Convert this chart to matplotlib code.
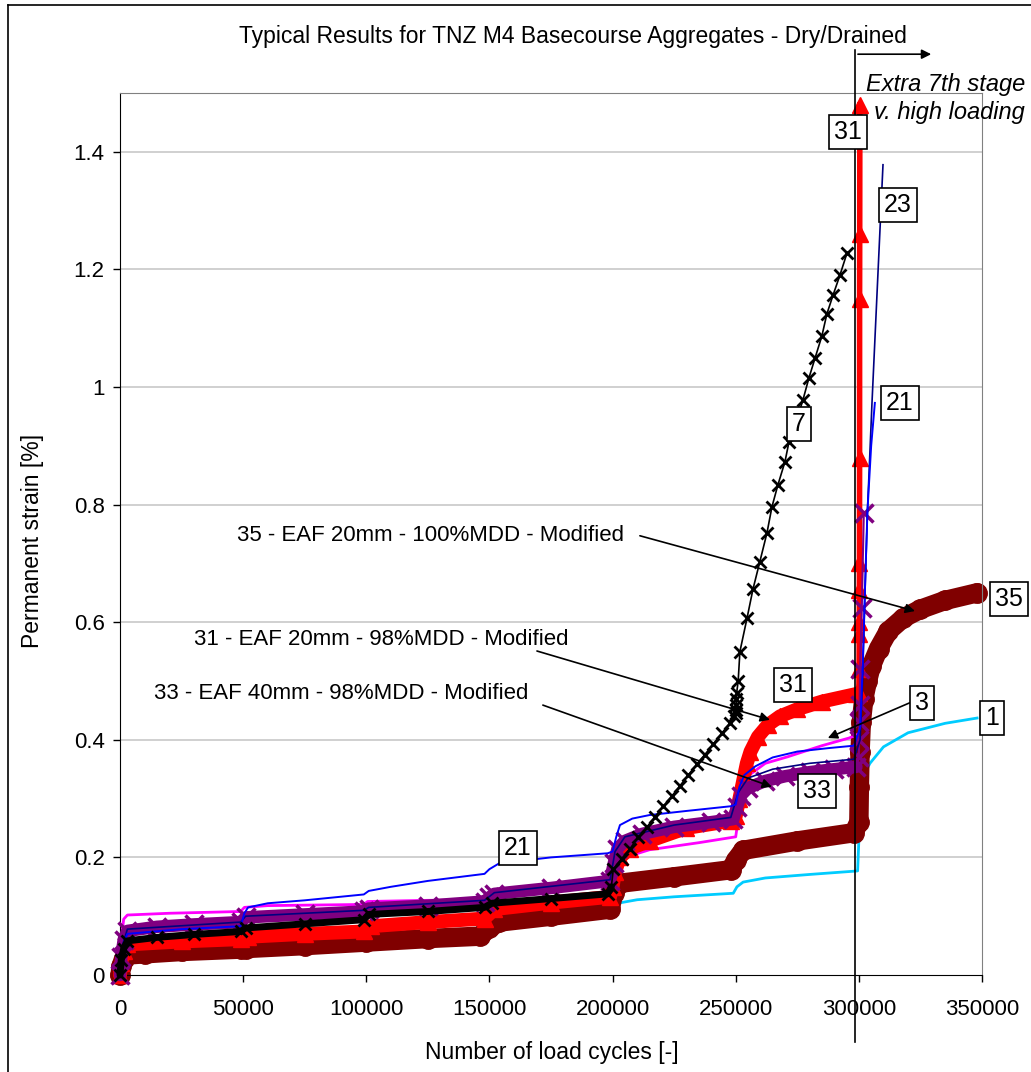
import numpy as np
import matplotlib
matplotlib.use("Agg")
import matplotlib.pyplot as plt

plt.rcParams['font.family'] = ['Liberation Sans', 'DejaVu Sans']

# ---- data ----
# 35 - maroon circles
x35 = [0, 500, 1500, 3000, 10000, 25000, 49000, 51000, 75000, 100000, 125000, 146000, 150000, 154000,
       175000, 199000, 200500, 203000, 225000, 248000, 250000, 253000, 275000, 298000, 300000, 300200,
       300500, 301000, 302000, 303500, 305000, 308000, 312000, 318000, 325000, 335000, 348000]
y35 = [0, 0.015, 0.028, 0.034, 0.036, 0.04, 0.044, 0.045, 0.05, 0.056, 0.062, 0.066, 0.08, 0.09,
       0.1, 0.112, 0.14, 0.156, 0.167, 0.179, 0.195, 0.212, 0.228, 0.242, 0.26, 0.32,
       0.38, 0.43, 0.47, 0.5, 0.525, 0.555, 0.585, 0.607, 0.622, 0.637, 0.65]

# 1 - cyan (hidden under 35 before 200000)
x1 = [0, 1000, 3000, 25000, 50000, 100000, 145000, 155000, 180000, 199000, 200500, 202000, 210000, 225000,
      249000, 250500, 253000, 262000, 280000, 299500, 300200, 300600, 302000, 304500, 310000, 320000,
      335000, 348000]
y1 = [0, 0.02, 0.03, 0.036, 0.043, 0.054, 0.062, 0.085, 0.095, 0.098, 0.11, 0.122, 0.128, 0.133,
      0.139, 0.15, 0.158, 0.165, 0.171, 0.177, 0.25, 0.31, 0.34, 0.36, 0.388, 0.412,
      0.428, 0.437]

# 3 - magenta
x3 = [0, 800, 1500, 3000, 20000, 49000, 50500, 60000, 99000, 100500, 125000, 149000, 151000, 175000,
      199000, 201000, 205000, 215000, 235000, 250000, 251500, 254500, 262000, 271000, 285000, 296000, 300000]
y3 = [0, 0.07, 0.095, 0.102, 0.105, 0.108, 0.115, 0.118, 0.12, 0.125, 0.127, 0.128, 0.135, 0.145,
      0.155, 0.18, 0.2, 0.213, 0.225, 0.235, 0.28, 0.337, 0.36, 0.371, 0.39, 0.403, 0.41]

# 31 - red triangles
x31 = [0, 500, 1500, 3000, 25000, 49000, 52000, 75000, 99000, 102000, 125000, 148000, 152000, 175000,
       199000, 200000, 201000, 203000, 207000, 215000, 230000, 248000, 250000, 251500, 253000, 254500,
       256000, 259000, 263000, 268000, 275000, 285000, 299000, 300000, 300100, 300150, 300200, 300200,
       300250, 300300, 300300, 300350, 300400]
y31 = [0, 0.02, 0.04, 0.052, 0.057, 0.061, 0.065, 0.07, 0.074, 0.083, 0.09, 0.096, 0.112, 0.123,
       0.133, 0.15, 0.175, 0.2, 0.215, 0.228, 0.25, 0.262, 0.27, 0.3, 0.33, 0.36,
       0.38, 0.405, 0.425, 0.44, 0.452, 0.465, 0.478, 0.48, 0.52, 0.58, 0.6, 0.655,
       0.7, 0.88, 1.15, 1.26, 1.48]

# 33 - purple crosses
x33 = [0, 500, 1500, 3000, 15000, 30000, 49000, 51000, 75000, 99000, 101000, 125000, 148000, 150000,
       152000, 175000, 199000, 200500, 202000, 205000, 212000, 225000, 240000, 249000, 250500, 252000,
       255000, 262000, 270000, 280000, 290000, 299000, 300000, 300100, 300200, 300300, 300500, 301200, 302000]
y33 = [0, 0.03, 0.06, 0.075, 0.082, 0.086, 0.09, 0.098, 0.103, 0.108, 0.113, 0.118, 0.125, 0.132,
       0.138, 0.148, 0.16, 0.19, 0.215, 0.228, 0.24, 0.252, 0.26, 0.265, 0.285, 0.305,
       0.318, 0.33, 0.338, 0.345, 0.35, 0.354, 0.37, 0.4, 0.43, 0.46, 0.52, 0.625, 0.785]

# 23 - navy
x23 = [0, 1000, 3000, 49000, 51000, 99000, 101000, 148000, 152000, 199000, 201000, 205000, 225000, 248000,
       251000, 255000, 265000, 280000, 298000, 300500, 301500, 302500, 303500, 305300, 307500, 309800]
y23 = [0, 0.05, 0.078, 0.09, 0.1, 0.11, 0.115, 0.127, 0.14, 0.162, 0.21, 0.235, 0.255, 0.268,
       0.31, 0.335, 0.35, 0.36, 0.367, 0.4, 0.5, 0.65, 0.79, 0.97, 1.17, 1.378]

# 21 - blue
x21 = [0, 500, 1500, 3000, 25000, 49000, 50500, 52000, 60000, 75000, 99000, 101000, 110000, 125000,
       148000, 150000, 154000, 175000, 198000, 200000, 201500, 203000, 208000, 215000, 230000, 248000,
       250000, 251500, 253500, 258000, 265000, 275000, 288000, 298000, 300500, 301500, 302500, 303500,
       305000, 306500]
y21 = [0, 0.03, 0.055, 0.07, 0.078, 0.083, 0.105, 0.115, 0.122, 0.127, 0.137, 0.143, 0.15, 0.16,
       0.172, 0.18, 0.19, 0.2, 0.207, 0.21, 0.235, 0.255, 0.266, 0.272, 0.279, 0.287,
       0.29, 0.32, 0.34, 0.355, 0.37, 0.38, 0.386, 0.39, 0.42, 0.52, 0.66, 0.79,
       0.9, 0.973]

# 7 - black crosses
x7 = [0, 500, 1500, 3000, 15000, 30000, 49000, 51000, 75000, 99000, 101000, 125000, 148000, 151000,
      175000, 198000, 199500, 200300, 203700, 207100, 210400, 213800, 217200, 220600, 224000, 227400,
      230700, 234100, 237500, 240900, 244300, 247700, 249500, 250000, 250100, 250200, 250300, 250400,
      251000, 251700, 254600, 257000, 259800, 262700, 264700, 267100, 270000, 271600, 274500, 277300,
      279700, 282200, 285000, 287000, 289500, 292300, 295200]
y7 = [0, 0.025, 0.045, 0.058, 0.064, 0.069, 0.074, 0.08, 0.087, 0.094, 0.103, 0.108, 0.115, 0.122,
      0.13, 0.138, 0.15, 0.18, 0.198, 0.215, 0.234, 0.251, 0.269, 0.287, 0.304, 0.322,
      0.34, 0.358, 0.375, 0.393, 0.411, 0.429, 0.44, 0.445, 0.45, 0.46, 0.47, 0.48,
      0.5, 0.55, 0.607, 0.656, 0.703, 0.752, 0.796, 0.833, 0.873, 0.906, 0.94, 0.978,
      1.015, 1.049, 1.087, 1.124, 1.156, 1.19, 1.228]

# boxed series labels: (text, x, y)
box_labels = [("31", 295600, 1.434), ("23", 315900, 1.309), ("21", 316700, 0.973), ("7", 275700, 0.937),
              ("35", 360900, 0.639), ("31", 273200, 0.493), ("3", 325600, 0.463), ("1", 354000, 0.437),
              ("33", 283000, 0.313), ("21", 161600, 0.216)]

# arrow notes: (text, text x, text y, arrow start x, y, arrow end x, y)
notes = [("35 - EAF 20mm - 100%MDD - Modified", 126000, 0.748, 211100, 0.747, 322800, 0.619),
         ("31 - EAF 20mm - 98%MDD - Modified", 106000, 0.570, 169300, 0.551, 263900, 0.434),
         ("33 - EAF 40mm - 98%MDD - Modified", 90000, 0.479, 171700, 0.459, 264700, 0.320)]

stage_x = 298500

# ---- figure ----
fig = plt.figure(figsize=(10.31, 10.72), dpi=100)
ax = fig.add_axes([120/1031, 1-975/1072, 862/1031, 882/1072])

def band(x, y, upto, lw, color, z):
    # dense markers in the original merge into a solid band
    x = np.asarray(x)
    y = np.asarray(y)
    m = x <= upto
    ax.plot(x[m], y[m], lw=lw, color=color, zorder=z, solid_joinstyle='round',
            solid_capstyle='round', clip_on=False)

# cyan 1 (lies under the maroon band)
ax.plot(x1, y1, color='#00CCFF', lw=2, zorder=1.5, clip_on=False)
# maroon 35
band(x35, y35, 400000, 14, '#800000', 2)
ax.plot(x35, y35, 'o', ms=14, color='#800000', zorder=2, clip_on=False)
# magenta 3
ax.plot(x3, y3, color='#FF00FF', lw=2, zorder=3.5, clip_on=False)
# red 31
band(x31, y31, 299500, 10, '#FF0000', 4)
ax.plot(x31, y31, color='#FF0000', lw=4, marker='^', ms=11, zorder=4, clip_on=False)
# purple 33
band(x33, y33, 299500, 9, '#800080', 5)
ax.plot(x33, y33, color='#800080', lw=1.5, marker='x', ms=13, mew=2.5, zorder=5, clip_on=False)
# navy 23
ax.plot(x23, y23, color='#000080', lw=1.2, zorder=6)
# blue 21
ax.plot(x21, y21, color='#0000FF', lw=1.4, zorder=6.5)
# black 7
band(x7, y7, 199500, 5, 'black', 7)
ax.plot(x7, y7, color='black', lw=1.2, marker='x', ms=8, mew=2, zorder=7, clip_on=False)

ax.set_xlim(0, 350000)
ax.set_ylim(0, 1.5)
ax.set_xticks(np.arange(0, 350001, 50000))
ax.set_yticks([0, 0.2, 0.4, 0.6, 0.8, 1.0, 1.2, 1.4])
ax.set_yticklabels(['0', '0.2', '0.4', '0.6', '0.8', '1', '1.2', '1.4'])
ax.set_xticklabels([str(v) for v in range(0, 350001, 50000)])
ax.tick_params(axis='both', direction='out', length=5, width=1, labelsize=16, color='black')
ax.tick_params(axis='y', pad=6)
ax.tick_params(axis='x', pad=12)
for yv in [0.2, 0.4, 0.6, 0.8, 1.0, 1.2, 1.4]:
    ax.axhline(yv, color='#C8C8C8', lw=1.2, zorder=1)
ax.spines['left'].set_color('black')
ax.spines['bottom'].set_color('black')
ax.spines['top'].set_color('#808080')
ax.spines['right'].set_color('#808080')

# stage divider and arrow
ax.plot([stage_x, stage_x], [-0.114, 1.573], color='black', lw=1.2, zorder=8, clip_on=False)
ax.annotate('', xy=(330500, 1.566), xytext=(stage_x, 1.566), annotation_clip=False,
            arrowprops=dict(arrowstyle='-|>', color='black', lw=1.2, mutation_scale=14))
ax.text(367400, 1.514, 'Extra 7th stage', style='italic', fontsize=17, ha='right', va='center',
        zorder=9, clip_on=False)
ax.text(367400, 1.466, 'v. high loading', style='italic', fontsize=17, ha='right', va='center',
        zorder=9, clip_on=False)

for t, bx, by in box_labels:
    ax.text(bx, by, t, fontsize=18, ha='center', va='center', zorder=10, clip_on=False,
            bbox=dict(boxstyle='square,pad=0.2', fc='white', ec='black', lw=1.2))

for t, tx, ty, sx, sy, ex, ey in notes:
    ax.text(tx, ty, t, fontsize=16, ha='center', va='center', zorder=9)
    ax.annotate('', xy=(ex, ey), xytext=(sx, sy), zorder=9,
                arrowprops=dict(arrowstyle='-|>', color='black', lw=1.2, mutation_scale=14,
                                shrinkA=0, shrinkB=0))
# arrow from label 3
ax.annotate('', xy=(287400, 0.403), xytext=(320700, 0.463), zorder=9,
            arrowprops=dict(arrowstyle='-|>', color='black', lw=1.2, mutation_scale=14,
                            shrinkA=0, shrinkB=0))

fig.text(573/1031, 1-37/1072, 'Typical Results for TNZ M4 Basecourse Aggregates - Dry/Drained',
         fontsize=16.5, ha='center', va='center')
fig.text(33/1031, 1-541/1072, 'Permanent strain [%]', fontsize=16.5, rotation=90,
         ha='center', va='center')
fig.text(552/1031, 1-1053/1072, 'Number of load cycles [-]', fontsize=16.5, ha='center', va='center')

# outer chart frame (left and top edges visible)
fig.add_artist(plt.Line2D([8/1031, 8/1031], [0, 1-5/1072], color='black', lw=1.2))
fig.add_artist(plt.Line2D([8/1031, 1], [1-5/1072, 1-5/1072], color='black', lw=1.2))

fig.savefig('out.png', dpi=100)
